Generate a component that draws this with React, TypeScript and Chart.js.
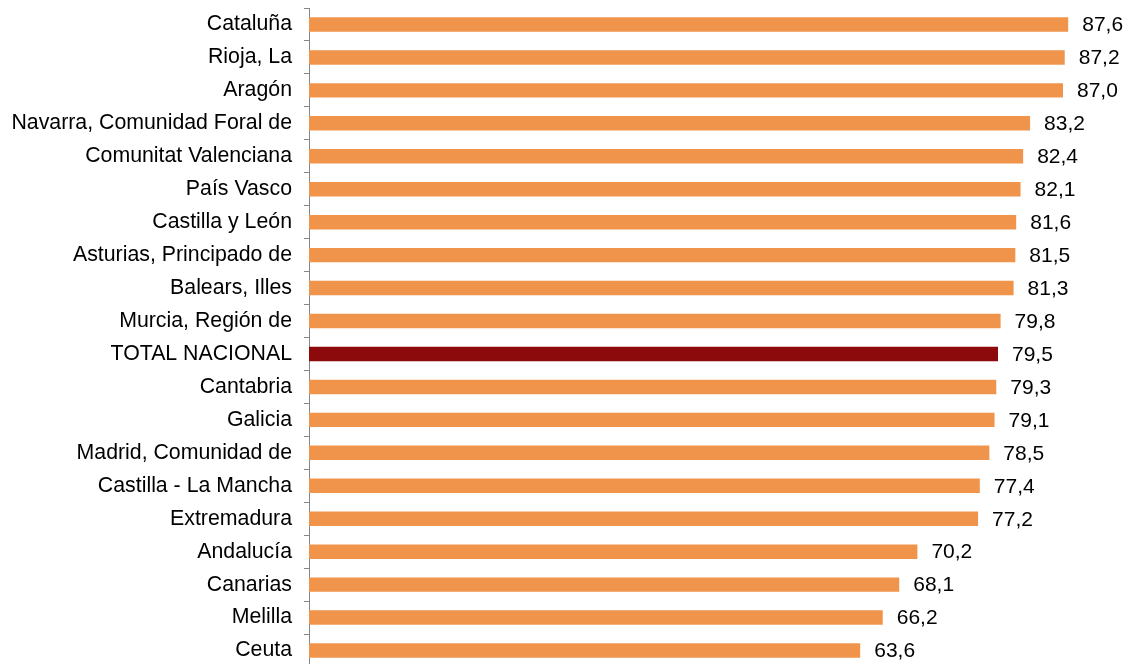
import React, { useEffect, useRef } from "react";
import { Chart, registerables } from "chart.js";

Chart.register(...registerables);

const categories: string[] = [
  "Cataluña",
  "Rioja, La",
  "Aragón",
  "Navarra, Comunidad Foral de",
  "Comunitat Valenciana",
  "País Vasco",
  "Castilla y León",
  "Asturias, Principado de",
  "Balears, Illes",
  "Murcia, Región de",
  "TOTAL NACIONAL",
  "Cantabria",
  "Galicia",
  "Madrid, Comunidad de",
  "Castilla - La Mancha",
  "Extremadura",
  "Andalucía",
  "Canarias",
  "Melilla",
  "Ceuta",
];

const values: number[] = [
  87.6, 87.2, 87.0, 83.2, 82.4, 82.1, 81.6, 81.5, 81.3, 79.8, 79.5, 79.3, 79.1,
  78.5, 77.4, 77.2, 70.2, 68.1, 66.2, 63.6,
];

const highlightLabel = "TOTAL NACIONAL";
const barColor = "#EF944A";
const highlightColor = "#8C0A0C";
const FONT = "'Liberation Sans', Arial, sans-serif";

const valueLabels = {
  id: "valueLabels",
  afterDatasetsDraw(chart: any) {
    const ctx = chart.ctx;
    const meta = chart.getDatasetMeta(0);
    ctx.save();
    ctx.font = `21px ${FONT}`;
    ctx.fillStyle = "#000";
    ctx.textAlign = "left";
    ctx.textBaseline = "middle";
    meta.data.forEach((el: any, i: number) => {
      const v = values[i];
      ctx.fillText(v.toFixed(1).replace(".", ","), el.x + 14, el.y + 1);
    });
    ctx.restore();
  },
};

export default function App() {
  const ref = useRef<HTMLCanvasElement | null>(null);
  useEffect(() => {
    if (!ref.current) return;
    const chart = new Chart(ref.current, {
      type: "bar",
      data: {
        labels: categories,
        datasets: [
          {
            data: values,
            backgroundColor: categories.map((c) =>
              c === highlightLabel ? highlightColor : barColor
            ),
            barPercentage: 0.44,
            categoryPercentage: 1,
          },
        ],
      },
      options: {
        indexAxis: "y",
        responsive: false,
        animation: false,
        layout: { padding: { top: 8, right: 38, bottom: 0, left: 0 } },
        plugins: {
          legend: { display: false },
          tooltip: { enabled: false },
        },
        scales: {
          x: { display: false, min: 0, max: 90 },
          y: {
            afterFit: (scale: any) => {
              scale.width = 309;
              scale.paddingTop = 0;
              scale.paddingBottom = 0;
            },
            grid: {
              drawOnChartArea: false,
              offset: true,
              tickLength: 5,
              color: "#868686",
            },
            border: { display: true, color: "#868686", width: 1 },
            ticks: {
              color: "#000",
              padding: 12,
              font: { family: FONT, size: 21.3 },
              autoSkip: false,
            },
          },
        },
      },
      plugins: [valueLabels],
    });
    return () => chart.destroy();
  }, []);
  return (
    <div
      style={{
        position: "fixed",
        top: 0,
        left: 0,
        width: 1127,
        height: 664,
        overflow: "hidden",
        background: "#fff",
      }}
    >
      <canvas ref={ref} width={1127} height={667} style={{ width: 1127, height: 667 }} />
    </div>
  );
}
